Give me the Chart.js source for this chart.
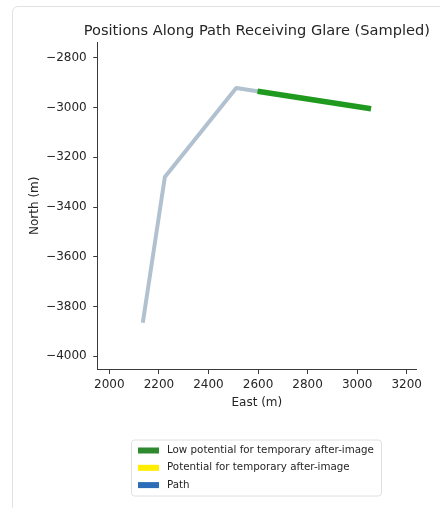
<!DOCTYPE html>
<html>
<head>
<meta charset="utf-8">
<script src="https://cdn.jsdelivr.net/npm/chart.js@4/dist/chart.umd.min.js"></script>
<style>
  html, body { margin:0; padding:0; background:#fff; width:440px; height:508px; overflow:hidden; }
  #card { position:absolute; left:12px; top:6px; width:520px; height:600px; border:1px solid #e2e2e2; border-radius:6px; box-sizing:border-box; background:#fff; }
  #wrap { position:absolute; left:0; top:0; width:440px; height:508px; }
</style>
</head>
<body>
<div id="card"></div>
<div id="wrap"><canvas id="c" width="440" height="508"></canvas></div>
<script>
// ---- data ----
const pathEast  = [2135, 2224, 2512, 3056];
const pathNorth = [-3866, -3279, -2921, -3004];
const lowGlareEast  = [2598, 3056];
const lowGlareNorth = [-2934, -3004];
const glareEast  = [];
const glareNorth = [];
const xTicks = [2000, 2200, 2400, 2600, 2800, 3000, 3200];
const yTicks = [-2800, -3000, -3200, -3400, -3600, -3800, -4000];
const seriesLabels = ['Low potential for temporary after-image', 'Potential for temporary after-image', 'Path'];
const legendColors = ['#2f8a2f', '#ffee00', '#2b6db6'];
const chartTitle = 'Positions Along Path Receiving Glare (Sampled)';

const toPts = (xs, ys) => xs.map((x, i) => ({x: x, y: ys[i]}));
const FONT = 'DejaVu Sans';
const TXT = '#262626';
const AX = '#3a3a3a';
const fmt = v => String(v).replace('-', '\u2212');

const titleLegendPlugin = {
  id: 'mplTitleLegend',
  afterDraw(chart) {
    const ctx = chart.ctx;
    const ca = chart.chartArea;
    ctx.save();
    // title centred over the axes
    ctx.font = '14.6px "' + FONT + '"';
    ctx.textAlign = 'center';
    ctx.textBaseline = 'middle';
    ctx.fillStyle = TXT;
    ctx.fillText(chartTitle, (ca.left + ca.right) / 2, 31);
    // legend box
    const bx = 131.5, by = 440, bw = 250, bh = 56, r = 3;
    ctx.beginPath();
    ctx.moveTo(bx + r, by);
    ctx.arcTo(bx + bw, by, bx + bw, by + bh, r);
    ctx.arcTo(bx + bw, by + bh, bx, by + bh, r);
    ctx.arcTo(bx, by + bh, bx, by, r);
    ctx.arcTo(bx, by, bx + bw, by, r);
    ctx.closePath();
    ctx.fillStyle = 'rgba(255,255,255,0.9)';
    ctx.fill();
    ctx.strokeStyle = '#e0e0e0';
    ctx.lineWidth = 1;
    ctx.stroke();
    ctx.font = '10.3px "' + FONT + '"';
    ctx.textAlign = 'left';
    ctx.textBaseline = 'middle';
    seriesLabels.forEach((lab, i) => {
      const cy = 450.5 + i * 17.3;
      ctx.fillStyle = legendColors[i];
      ctx.fillRect(138, cy - 3, 21, 6);
      ctx.fillStyle = TXT;
      ctx.fillText(lab, 167, cy);
    });
    ctx.restore();
  }
};

new Chart(document.getElementById('c'), {
  type: 'scatter',
  data: {
    datasets: [
      { label: seriesLabels[2], data: toPts(pathEast, pathNorth), showLine: true,
        borderColor: '#b2c1d0', borderWidth: 4, pointRadius: 0, order: 3, borderCapStyle: 'butt', borderJoinStyle: 'round' },
      { label: seriesLabels[1], data: toPts(glareEast, glareNorth), showLine: true,
        borderColor: '#ffee00', borderWidth: 5, pointRadius: 0, order: 2 },
      { label: seriesLabels[0], data: toPts(lowGlareEast, lowGlareNorth), showLine: true,
        borderColor: '#1f9a1f', borderWidth: 5.5, pointRadius: 0, order: 1 }
    ]
  },
  options: {
    responsive: false,
    animation: false,
    layout: { padding: { left: 0, right: 24, top: 42, bottom: 0 } },
    plugins: {
      legend: { display: false },
      tooltip: { enabled: false },
      title: { display: false }
    },
    scales: {
      x: {
        type: 'linear', position: 'bottom', min: 1953, max: 3237.5,
        afterBuildTicks: s => { s.ticks = xTicks.map(v => ({value: v})); },
        afterFit: s => { s.height = 138.5; },
        ticks: { color: TXT, font: { family: FONT, size: 12 }, padding: 4, maxRotation: 0, callback: v => fmt(v) },
        grid: { drawOnChartArea: false, drawTicks: true, tickLength: 4.5, color: AX },
        border: { display: true, color: AX, width: 1 },
        title: { display: true, text: 'East (m)', color: TXT, font: { family: FONT, size: 12 }, padding: { top: 0, bottom: 98 } }
      },
      y: {
        type: 'linear', position: 'left', min: -4054, max: -2735.6,
        afterBuildTicks: s => { s.ticks = yTicks.map(v => ({value: v})); },
        afterFit: s => { s.width = 97.7; },
        ticks: { color: TXT, font: { family: FONT, size: 12 }, padding: 6.5, callback: v => fmt(v) },
        grid: { drawOnChartArea: false, drawTicks: true, tickLength: 4.5, color: AX },
        border: { display: true, color: AX, width: 1 },
        title: { display: true, text: 'North (m)', color: TXT, font: { family: FONT, size: 12 }, padding: { top: 28, bottom: 0 } }
      }
    }
  },
  plugins: [titleLegendPlugin]
});
</script>
</body>
</html>
